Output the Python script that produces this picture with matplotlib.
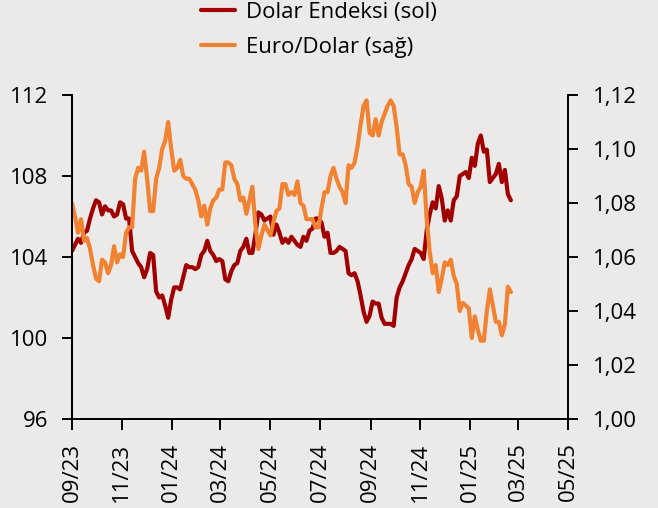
import pandas as pd
import matplotlib
matplotlib.use("Agg")
import matplotlib.pyplot as plt
import matplotlib.ticker as ticker
import matplotlib.dates as mdates

# values, evenly spaced from 01.09.2023 to 20.02.2025
dolar_endeksi = [
    104.3, 104.6, 104.9, 104.7, 105.2, 105.3, 105.9, 106.4, 106.8, 106.7, 106.1, 106.5, 106.3, 106.3,
    106.0, 106.1, 106.7, 106.6, 105.9, 105.9, 104.3, 104.0, 103.7, 103.5, 103.0, 103.4, 104.2,
    104.1, 102.3, 102.0, 102.1, 101.6, 101.0, 101.9, 102.5, 102.5, 102.4, 103.0, 103.6, 103.5,
    103.5, 103.4, 103.5, 104.1, 104.3, 104.8, 104.3, 104.1, 103.8, 103.9, 103.8, 102.9,
    102.8, 103.3, 103.6, 103.7, 104.3, 104.5, 104.9, 104.2, 104.2, 105.1, 106.2, 106.1, 105.8,
    105.9, 106.0, 105.1, 105.6, 105.2, 104.7, 104.9, 104.7, 105.0, 104.8, 104.6, 104.5,
    105.0, 104.8, 105.3, 105.4, 105.9, 105.9, 105.7, 105.0, 105.2, 104.2, 104.2, 104.3, 104.5,
    104.4, 104.3, 103.2, 103.1, 103.2, 102.8, 102.1, 101.3, 100.8, 101.1, 101.8, 101.7,
    101.7, 101.0, 100.7, 100.7, 100.7, 100.6, 102.0, 102.5, 102.8, 103.2, 103.6, 103.9, 104.4,
    104.3, 104.2, 103.9, 105.3, 106.1, 106.7, 106.4, 107.5, 106.9, 105.8, 106.3, 105.8,
    106.8, 107.0, 108.0, 108.1, 108.2, 107.9, 108.9, 108.5, 109.6, 110.0, 109.2, 109.3, 107.7,
    107.9, 108.1, 108.6, 107.7, 108.3, 107.1, 106.8,
]
euro_dolar = [
    1.080, 1.075, 1.069, 1.074, 1.066, 1.067, 1.063, 1.057, 1.052, 1.051, 1.059, 1.058, 1.054, 1.057,
    1.064, 1.058, 1.061, 1.060, 1.069, 1.071, 1.071, 1.089, 1.093, 1.092, 1.099, 1.089, 1.077,
    1.077, 1.089, 1.093, 1.100, 1.103, 1.110, 1.100, 1.092, 1.093, 1.096, 1.090, 1.089, 1.089,
    1.087, 1.085, 1.081, 1.075, 1.079, 1.072, 1.078, 1.081, 1.082, 1.085, 1.085, 1.095,
    1.095, 1.094, 1.089, 1.087, 1.081, 1.082, 1.076, 1.081, 1.086, 1.072, 1.063, 1.068, 1.072,
    1.070, 1.068, 1.073, 1.077, 1.078, 1.087, 1.087, 1.083, 1.084, 1.083, 1.088, 1.080,
    1.079, 1.074, 1.074, 1.074, 1.071, 1.071, 1.078, 1.084, 1.084, 1.090, 1.093, 1.089, 1.086,
    1.084, 1.080, 1.094, 1.093, 1.095, 1.101, 1.109, 1.116, 1.118, 1.106, 1.105, 1.111,
    1.105, 1.110, 1.113, 1.116, 1.118, 1.116, 1.108, 1.098, 1.098, 1.094, 1.087, 1.086, 1.080,
    1.084, 1.086, 1.092, 1.074, 1.062, 1.054, 1.057, 1.047, 1.052, 1.058, 1.057, 1.059,
    1.053, 1.050, 1.040, 1.043, 1.042, 1.041, 1.030, 1.038, 1.033, 1.029, 1.029, 1.040, 1.048,
    1.042, 1.036, 1.036, 1.031, 1.035, 1.049, 1.047,
]
dates = pd.date_range("2023-09-01", "2025-02-20", periods=len(dolar_endeksi))

left_ticks = [96, 100, 104, 108, 112]
right_ticks = [1.00, 1.02, 1.04, 1.06, 1.08, 1.10, 1.12]
labels = ["Dolar Endeksi (sol)", "Euro/Dolar (sağ)"]

plt.rcParams["font.family"] = ["Open Sans", "DejaVu Sans"]
plt.rcParams["font.size"] = 16

bg = "#ECEAE9"
fig = plt.figure(figsize=(6.58, 5.08), dpi=100, facecolor=bg)
ax1 = fig.add_axes([0.1094, 0.1752, 0.7538, 0.6378])
ax1.set_facecolor(bg)

l1, = ax1.plot(dates, dolar_endeksi, color="#A00000", lw=3.0, solid_capstyle="round", solid_joinstyle="round")
ax1.set_ylim(96, 112)
ax1.set_yticks(left_ticks)
ax1.set_xlim(pd.Timestamp("2023-09-01"), pd.Timestamp("2025-05-01"))
ax1.xaxis.set_major_locator(mdates.MonthLocator(bymonth=[1, 3, 5, 7, 9, 11]))
ax1.xaxis.set_major_formatter(mdates.DateFormatter("%m/%y"))
plt.setp(ax1.get_xticklabels(), rotation=90)

ax2 = ax1.twinx()
l2, = ax2.plot(dates, euro_dolar, color="#F08232", lw=3.0, solid_capstyle="round", solid_joinstyle="round")
ax2.set_ylim(1.00, 1.12)
ax2.set_yticks(right_ticks)
ax2.yaxis.set_major_formatter(ticker.FuncFormatter(lambda v, p: f"{v:.2f}".replace(".", ",")))

for ax in (ax1, ax2):
    ax.spines["top"].set_visible(False)
    for s in ax.spines.values():
        s.set_linewidth(1.4)
ax1.spines["right"].set_visible(False)
ax1.tick_params(axis="y", length=7, width=1.4, pad=10)
ax1.tick_params(axis="x", length=8, width=1.4, pad=9)
ax2.tick_params(axis="y", length=7, width=1.4, pad=11)

fig.legend([l1, l2], labels, loc="upper center", bbox_to_anchor=(0.485, 1.035),
           frameon=False, handlelength=1.5, handletextpad=0.5, labelspacing=0.6)

fig.savefig("out.png", dpi=100, facecolor=bg)
